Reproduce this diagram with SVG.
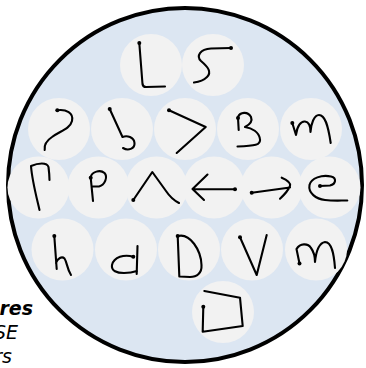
<svg xmlns="http://www.w3.org/2000/svg" width="366" height="368" viewBox="0 0 366 368">
<style>
.bg{fill:#dce6f2;stroke:#000;stroke-width:4}
.c{fill:#f2f2f2}
.g{fill:none;stroke:#000;stroke-width:2.1;stroke-linecap:round;stroke-linejoin:round}
.d{fill:#000}
.t{font-family:"DejaVu Sans",Verdana,sans-serif;font-size:19px;fill:#000}
</style>
<defs>
<circle id="cc" r="31" class="c"/>
</defs>
<rect width="366" height="368" fill="#fff"/>
<g id="legend">
<text class="t" x="33" y="315" text-anchor="end" font-weight="bold" font-style="italic">res</text>
<text class="t" x="18" y="339" text-anchor="end" font-style="italic">SE</text>
<text class="t" x="12" y="363" text-anchor="end" font-style="italic">rs</text>
</g>
<g id="container"><circle class="bg" cx="185" cy="185" r="177"/></g>
<g id="L"><use href="#cc" x="151" y="65"/><path class="g" d="M139.3,43 L142.5,84 Q143,87 146,87 L165,86.5"/><circle class="d" cx="139.3" cy="43" r="2"/></g>
<g id="S"><use href="#cc" x="213" y="65"/><path class="g" d="M231,48 L211,48.5 C200,49 196,56 201,61 C208,67 212,72 207,77 C203,81 198,82 194,82.5"/><circle class="d" cx="231" cy="48" r="2"/></g>
<g id="question"><use href="#cc" x="59" y="129"/><path class="g" d="M57.3,110.3 C66,109 74,113 72,121 C70,129 60,131 52,137 C46,141 44,146 44.7,150"/><circle class="d" cx="57.3" cy="110.3" r="2"/></g>
<g id="b"><use href="#cc" x="122" y="129"/><path class="g" d="M109.7,109 L122.5,137 C127,135 134,137 134.5,143 C135,149 128,151 123,148"/><circle class="d" cx="109.7" cy="109" r="2"/></g>
<g id="gt"><use href="#cc" x="185" y="129"/><path class="g" d="M169,110.3 L205.7,127 L176.7,153"/><circle class="d" cx="169" cy="110.3" r="2"/></g>
<g id="B"><use href="#cc" x="248" y="129"/><path class="g" d="M238,118 L238.7,130 M238,117 C240,112 248,111 251,117 C253,122 249,125 245,127 C252,128 259,132 260,139 C261,145 255,146 237.5,146.5"/><circle class="d" cx="238" cy="118" r="2"/></g>
<g id="m1"><use href="#cc" x="311" y="129"/><path class="g" d="M292.3,123 L296,135 C297,126 301,121 305,121.5 C309,122 310.5,126 310.5,132 C311,124 314,115 319,115 C325,115 328,125 330.7,143"/><circle class="d" cx="292.3" cy="123" r="2"/></g>
<g id="r"><use href="#cc" x="38.5" y="187.5"/><path class="g" d="M39.5,210 C36,195 32,180 31,166 C38,163 47,162 48.5,167 C49,171 49.5,176 49.5,180"/></g>
<g id="p"><use href="#cc" x="98.3" y="187.5"/><path class="g" d="M90.7,177.7 L93,201 M90.7,177 C92,172 100,169 104.5,173 C108,177 105,185 99,186.5 L93,186.5"/><circle class="d" cx="90.7" cy="177.7" r="2"/></g>
<g id="caret"><use href="#cc" x="156.5" y="187.5"/><path class="g" d="M133.3,200 L152.3,172 L166,191 C170,197 175,201 179,203"/><circle class="d" cx="133.3" cy="200" r="2"/></g>
<g id="left"><use href="#cc" x="214" y="187.5"/><path class="g" d="M235,189.3 L192.5,189 M207.5,174.5 L192.5,189 L204,200"/><circle class="d" cx="235" cy="189.3" r="2"/></g>
<g id="right"><use href="#cc" x="271.7" y="187.5"/><path class="g" d="M251.7,192.7 L290,187.5 M281.7,177.7 C287,180 291,183 290,186 C288,191 284,195 280,198.7"/><circle class="d" cx="251.7" cy="192.7" r="2"/></g>
<g id="e"><use href="#cc" x="329.5" y="187.5"/><path class="g" d="M320,186 L330,185.5 C336,184 337,178 331,176.5 C322,174.5 311,178 309.5,185 C308,193 316,199 325,200 C333,201 340,200.5 347.3,200.5"/><circle class="d" cx="320" cy="186" r="2"/></g>
<g id="h"><use href="#cc" x="62.5" y="249.5"/><path class="g" d="M54.3,236 L56.7,269 M56,263 C57.5,258 62,256 64.5,258.5 C67,262 67,269 71,275"/><circle class="d" cx="54.3" cy="236" r="2"/></g>
<g id="d"><use href="#cc" x="126" y="249.5"/><path class="g" d="M133.3,256.7 C124,254 114,257 112,265 C111,271 117,273 124,273 C130,273 134,272 137,271 M137.5,246 L136.7,274"/><circle class="d" cx="133.3" cy="256.7" r="2"/></g>
<g id="D"><use href="#cc" x="189" y="249.5"/><path class="g" d="M177.7,236 L179.3,276 M178,236 C190,233 201,250 201.5,265 C202,273 197,277 190,277 L179.3,276.5"/><circle class="d" cx="177.7" cy="236" r="2"/></g>
<g id="V"><use href="#cc" x="252" y="249.5"/><path class="g" d="M240,237.3 L256.7,275 L266.7,235"/><circle class="d" cx="240" cy="237.3" r="2"/></g>
<g id="m2"><use href="#cc" x="316" y="249.5"/><path class="g" d="M299.5,263.5 L296.5,249 C300,243 308,243 311,248 C314,252 315,257 315,262 C316,252 319,243 325,242 C332,242 334,255 335,268"/><circle class="d" cx="299.5" cy="263.5" r="2"/></g>
<g id="box"><use href="#cc" x="223" y="312"/><path class="g" d="M203.3,306.7 L202.7,331.7 L242.7,326 L240,297.7 L204.3,291"/><circle class="d" cx="203.3" cy="306.7" r="2"/></g>
</svg>
